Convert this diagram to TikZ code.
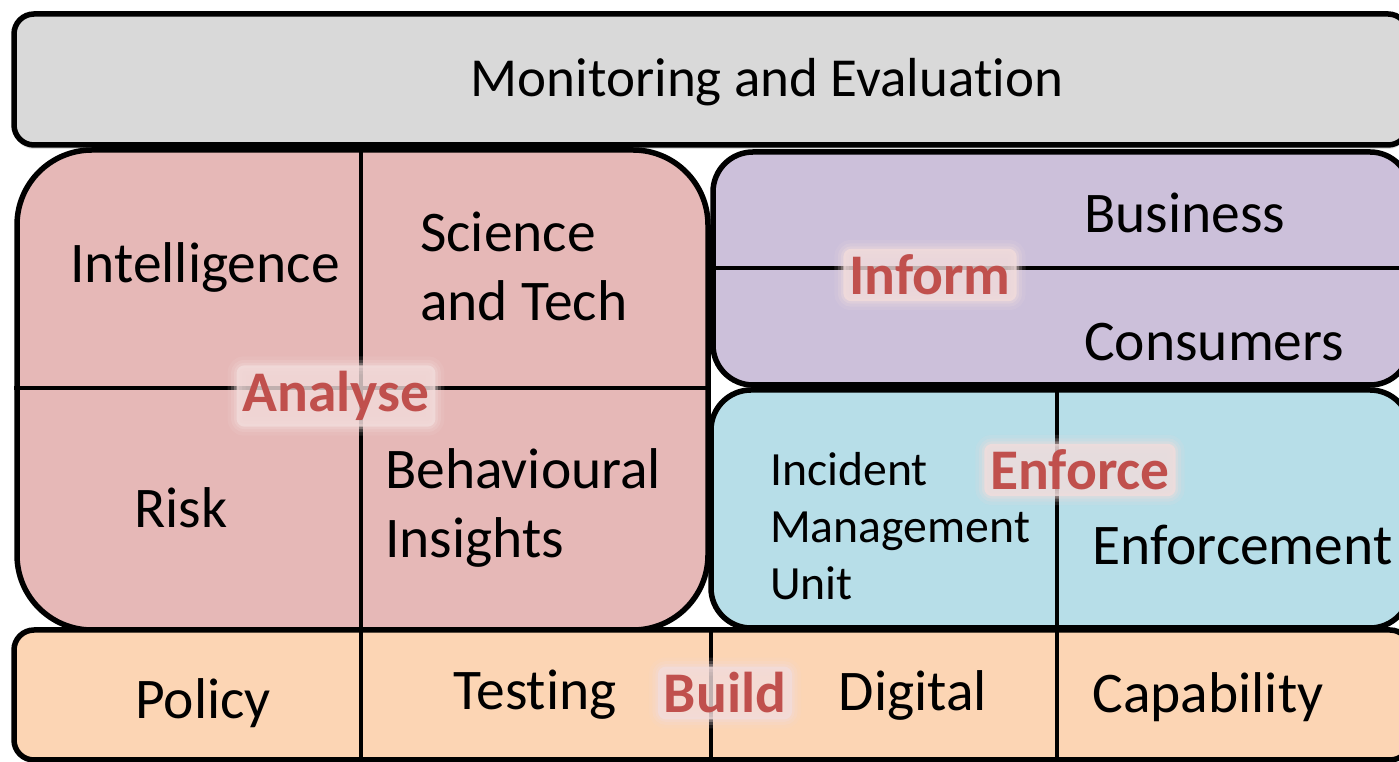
\documentclass[tikz,border=0pt]{standalone}
\usepackage{fontspec}
\setmainfont{Carlito}[Ligatures={NoCommon}]
\usetikzlibrary{positioning,shadows}
\definecolor{monfill}{HTML}{D9D9D9}
\definecolor{analysefill}{HTML}{E6B8B7}
\definecolor{informfill}{HTML}{CCC0DA}
\definecolor{enforcefill}{HTML}{B7DEE8}
\definecolor{buildfill}{HTML}{FCD5B4}
\definecolor{verb}{HTML}{C0504D}
\definecolor{glowpink}{HTML}{F2DCDB}
\tikzset{divider/.style={draw, line width=4pt}}

\begin{document}
\begin{tikzpicture}[x=1pt, y=1pt, node distance=1cm]
\tikzstyle{block} = [rectangle, draw, line width=5.5pt, inner sep=0pt]
\tikzstyle{cell} = [inner sep=0pt, align=left, font=\fontsize{57.5}{69}\selectfont]
\tikzstyle{small} = [inner sep=0pt, align=left, font=\fontsize{47.7}{57}\selectfont]
\tikzstyle{glow} = [inner sep=6pt, text=verb, fill=glowpink, fill opacity=0.8, text opacity=1, rounded corners=8pt,
  preaction={draw=glowpink, line width=18pt, draw opacity=0.12, rounded corners=14pt},
  preaction={draw=glowpink, line width=11pt, draw opacity=0.2, rounded corners=11pt},
  preaction={draw=glowpink, line width=5pt, draw opacity=0.3, rounded corners=9pt},
  font=\bfseries\fontsize{57.5}{66}\selectfont]

\fill[white] (0,0) rectangle (1399,762);
\useasboundingbox (0,0) rectangle (1399,762);

% blocks
\node [block, fill=monfill, rounded corners=20pt, minimum width=1394pt, minimum height=131pt, drop shadow={opacity=0.25, shadow xshift=0pt, shadow yshift=-4pt}](monitor) at (711,682.5) {};
\node [block, fill=analysefill, rounded corners=75pt, minimum width=691pt, minimum height=480pt](analyse) at (362.5,372) {};
\node [block, fill=informfill, rounded corners=40pt, minimum width=697pt, minimum height=233pt](inform) at (1061.5,493.5) {};
\node [block, fill=enforcefill, rounded corners=40pt, minimum width=699pt, minimum height=238pt](enforce) at (1060.5,253) {};
\node [block, fill=buildfill, rounded corners=20pt, minimum width=1396pt, minimum height=130pt](build) at (712,67) {};

% dividers
\path [divider] (361,0 |- analyse.north) -- (361,0 |- analyse.south);
\path [divider] (analyse.west |- 0,374) -- (analyse.east |- 0,374);
\path [divider] (inform.west |- 0,494) -- (inform.east |- 0,494);
\path [divider] (1057,0 |- enforce.north) -- (1057,0 |- enforce.south);
\foreach \x in {361,711,1057}
  \path [divider] (\x,0 |- build.north) -- (\x,0 |- build.south);

% texts
\node [cell, font=\fontsize{55}{66}\selectfont](montext) at (767,680) {Monitoring and Evaluation};
\node [cell](intel) at (205,495) {Intelligence};
\node [cell, anchor=west](scitech) at (420,496) {Science\\and Tech};
\node [cell](risk) at (181,254) {Risk};
\node [cell, anchor=west](behav) at (385,254) {Behavioural\\Insights};
\node [cell, anchor=west](business) at (1084,549) {Business};
\node [cell, anchor=west](consumers) at (1084,420) {Consumers};
\node [small, anchor=west](imu) at (770,236) {Incident\\Management\\Unit};
\node [cell, anchor=west](enforcement) at (1092,217) {Enforcement};
\node [cell](policy) at (203,59) {Policy};
\node [cell](testing) at (535,67) {Testing};
\node [cell](digital) at (913,67) {Digital};
\node [cell](capability) at (1208,65) {Capability};

% verbs
\node [glow](analyseverb) at (336,366) {Analyse};
\node [glow](informverb) at (930,487) {Inform};
\node [glow](enforceverb) at (1080,292) {Enforce};
\node [glow](buildverb) at (725,69) {Build};

\end{tikzpicture}
\end{document}
